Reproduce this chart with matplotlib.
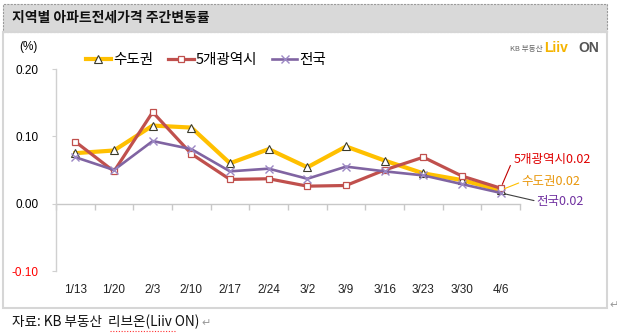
import matplotlib
matplotlib.use("Agg")
import matplotlib.pyplot as plt
from matplotlib.patches import Rectangle
from matplotlib.lines import Line2D

plt.rcParams['font.family'] = ['Noto Sans CJK KR', 'DejaVu Sans']

# Weekly change in apartment jeonse prices (%)
dates = ['1/13', '1/20', '2/3', '2/10', '2/17', '2/24', '3/2', '3/9', '3/16', '3/23', '3/30', '4/6']
sudogwon = [0.075, 0.079, 0.116, 0.113, 0.060, 0.081, 0.054, 0.085, 0.064, 0.045, 0.035, 0.020]
metro5 = [0.092, 0.048, 0.136, 0.074, 0.036, 0.037, 0.026, 0.027, 0.050, 0.069, 0.041, 0.023]
national = [0.069, 0.050, 0.093, 0.081, 0.048, 0.052, 0.037, 0.055, 0.048, 0.042, 0.029, 0.016]
series_names = ['수도권', '5개광역시', '전국']
yticks = [-0.10, 0.00, 0.10, 0.20]

W, H = 617, 333
fig = plt.figure(figsize=(W / 100, H / 100), dpi=100)


def fx(px):
    return px / W


def fy(py):
    return (H - py) / H


# Title bar and chart frame
fig.patches.append(Rectangle((fx(3), fy(32)), fx(604), 28 / H, transform=fig.transFigure,
                             facecolor='#d9d9d9', edgecolor='#9a9a9a', linewidth=0.8,
                             linestyle=(0, (2, 1))))
fig.patches.append(Rectangle((fx(3), fy(308)), fx(604), 276 / H, transform=fig.transFigure,
                             facecolor='none', edgecolor='#d6d6d6', linewidth=1.5))
fig.text(fx(12), fy(18), '지역별 아파트전세가격 주간변동률', fontsize=10, fontweight='bold',
         va='center', ha='left', color='#111111')

ax = fig.add_axes([fx(56), fy(271), fx(464), 202 / H])
x = list(range(len(dates)))

tri_style = dict(color='#FFC000', linewidth=3.0, marker='^', markersize=5.5,
                 markerfacecolor='white', markeredgecolor='#3a3a2a', markeredgewidth=0.8)
sq_style = dict(color='#C0504D', linewidth=2.3, marker='s', markersize=4.5,
                markerfacecolor='white', markeredgecolor='#C0504D', markeredgewidth=0.9)
x_style = dict(color='#8064A2', linewidth=1.9, marker='x', markersize=5.5,
               markeredgecolor='#9c88c4', markeredgewidth=1.0)

ax.plot(x, sudogwon, zorder=3, **tri_style)
ax.plot(x, metro5, zorder=4, **sq_style)
ax.plot(x, national, zorder=5, **x_style)

ax.set_xlim(-0.5, len(dates) - 0.5)
ax.set_ylim(-0.10, 0.20)
for s in ['top', 'right', 'bottom']:
    ax.spines[s].set_visible(False)
ax.spines['left'].set_color('#d0d0d0')
ax.spines['left'].set_linewidth(1.0)

ax.set_yticks(yticks)
ax.set_yticklabels([f'{v:.2f}' for v in yticks], family='Liberation Sans', fontsize=8.5)
ax.tick_params(axis='y', length=3, color='#d0d0d0', pad=9.5)
for lab, v in zip(ax.get_yticklabels(), yticks):
    lab.set_color('#ff0000' if v < 0 else '#000000')

ax.set_xticks(x)
ax.set_xticklabels(dates, family='Liberation Sans', fontsize=8.5, color='#222222')
ax.tick_params(axis='x', length=0, pad=9.5)

# Category axis drawn along the zero line
sec = ax.secondary_xaxis(1 / 3)
sec.set_xticks([i - 0.5 for i in range(len(dates) + 1)])
sec.set_xticklabels([])
sec.tick_params(axis='x', direction='out', length=4, color='#c8c8c8', width=1.0)
sec.spines['bottom'].set_color('#c8c8c8')
sec.spines['bottom'].set_linewidth(1.0)
for s in ['top', 'left', 'right']:
    sec.spines[s].set_visible(False)

fig.text(fx(38), fy(47), '(%)', fontsize=8.5, ha='right', va='center', family='Liberation Sans')

# Legend
handles = [Line2D([], [], **tri_style), Line2D([], [], **sq_style), Line2D([], [], **x_style)]
fig.legend(handles, series_names, loc='center', bbox_to_anchor=(fx(206), fy(60)), ncol=3,
           frameon=False, fontsize=10.5, handlelength=1.75, handletextpad=0.15,
           columnspacing=1.0, borderpad=0)

# End-point value labels with leader lines
last = len(dates) - 1
label_specs = [
    (metro5[last], '5개광역시', '#E00000', '#C00000', (9, 21)),
    (sudogwon[last], '수도권', '#E8960A', '#FFC000', (15, 6)),
    (national[last], '전국', '#7030A0', '#404040', (26, -6)),
]
for val, name, tcol, lcol, off in label_specs:
    ax.annotate(f'{name}{val:.2f}', xy=(last, val), xytext=off, textcoords='offset points',
                fontsize=9, color=tcol, va='center', ha='left', annotation_clip=False,
                arrowprops=dict(arrowstyle='-', color=lcol, linewidth=0.8,
                                shrinkA=0, shrinkB=3, relpos=(0, 0.5)),
                zorder=6)

# Brand mark
fig.text(fx(510), fy(49), 'KB 부동산', fontsize=5.5, color='#666666', va='center', ha='left')
fig.text(fx(544), fy(48), 'Liiv', fontsize=10, fontweight='bold', color='#F5B400',
         va='center', ha='left', family='Liberation Sans')
fig.text(fx(578), fy(48), 'ON', fontsize=10, fontweight='bold', color='#555555',
         va='center', ha='left', family='Liberation Sans')

# Source note
fig.text(fx(12), fy(322), '자료: KB 부동산  리브온(Liiv ON)', fontsize=9.8, color='#111111',
         va='center', ha='left')
fig.text(fx(201), fy(323), '↵', fontsize=8, color='#999999', va='center', ha='left',
         family='DejaVu Sans')
fig.text(fx(609), fy(305), '↵', fontsize=8, color='#999999', va='center', ha='left',
         family='DejaVu Sans')
fig.lines.append(Line2D([fx(110), fx(175)], [fy(331), fy(331)], transform=fig.transFigure,
                        color='#ff3030', linewidth=0.8, linestyle=(0, (1, 1.5))))

fig.savefig('out.png', dpi=100)
